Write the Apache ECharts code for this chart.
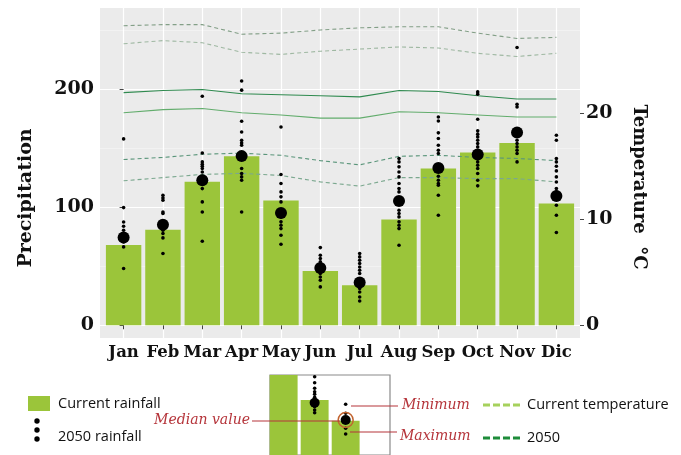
<!DOCTYPE html>
<html><head><meta charset="utf-8">
<script src="https://cdn.jsdelivr.net/npm/echarts@6/dist/echarts.min.js"></script>
<style>html,body{margin:0;padding:0;background:#fff}#c{width:681px;height:455px}</style>
</head><body><div id="c"></div>
<script>
// ---------- data ----------
const months = ['Jan','Feb','Mar','Apr','May','Jun','Jul','Aug','Sep','Oct','Nov','Dic'];
const precipTicks = [0, 100, 200];
const precipMinorTicks = [50, 150, 250];
const tempTicks = [0, 10, 20];
const currentRainfall = [68, 81, 121.5, 143.2, 105.7, 46, 33.9, 89.6, 132.8, 146.3, 154.5, 103.1];
const rainfall2050Median = [74.3, 85.2, 122.8, 143.3, 95.2, 48.6, 36.2, 105.2, 133.2, 144.6, 163.4, 109.5];
const rainfall2050Jan = [157.9, 99.7, 87.5, 83.9, 80.5, 77.7, 70.6, 66.4, 48.1];
const rainfall2050Feb = [110.2, 107.9, 105.9, 96.0, 94.7, 87.6, 80.5, 77.7, 74.0, 60.8];
const rainfall2050Mar = [194, 146, 138.4, 136.4, 134.7, 132.8, 129.9, 126.3, 120.1, 115.8, 104.5, 96.0, 71.2];
const rainfall2050Apr = [207, 199.2, 172.9, 163.8, 156.8, 154.5, 152.5, 132.8, 128.6, 125.7, 122.9, 96.0];
const rainfall2050May = [168, 127.7, 120.1, 113.0, 108.8, 104.5, 91.8, 87.6, 84.7, 81.9, 76.3, 68.6];
const rainfall2050Jun = [65.8, 59.3, 56.5, 53.7, 43.8, 40.9, 38.1, 32.5];
const rainfall2050Jul = [60.8, 57.9, 55.1, 52.3, 49.4, 46.6, 43.8, 31.1, 28.2, 24.0, 20.6];
const rainfall2050Aug = [141.3, 138.4, 134.2, 129.9, 125.7, 120.1, 115.8, 113.0, 97.5, 94.7, 91.8, 87.6, 84.7, 81.9, 67.8];
const rainfall2050Sep = [176.5, 173.1, 163, 158.2, 152.5, 148.3, 145.5, 126.3, 122.9, 120.1, 118.6, 110.2, 93.2];
const rainfall2050Oct = [197.7, 195.8, 174.6, 164.7, 161.9, 159.6, 156.8, 154.0, 151.1, 141.3, 138.4, 135.6, 132.8, 128.6, 122.9, 118.1];
const rainfall2050Nov = [235.3, 187.3, 185, 156.8, 154, 151.1, 148.3, 145.5, 138.4];
const rainfall2050Dic = [161, 156.8, 141.3, 138.4, 134.7, 130.8, 125.7, 121.4, 115.8, 113, 101.7, 93.2, 78.6];
const rainfall2050Members = [rainfall2050Jan, rainfall2050Feb, rainfall2050Mar, rainfall2050Apr, rainfall2050May, rainfall2050Jun,
  rainfall2050Jul, rainfall2050Aug, rainfall2050Sep, rainfall2050Oct, rainfall2050Nov, rainfall2050Dic];

// temperatures (°C)
const tempHigh2050 = [28.2, 28.3, 28.3, 27.4, 27.5, 27.8, 28.0, 28.1, 28.1, 27.5, 27.0, 27.1];
const tempHighCurrent = [26.5, 26.8, 26.6, 25.7, 25.5, 25.8, 26.0, 26.2, 26.1, 25.6, 25.3, 25.6];
const tempMean2050 = [21.9, 22.1, 22.2, 21.8, 21.7, 21.6, 21.5, 22.1, 22.0, 21.6, 21.3, 21.3];
const tempMeanCurrent = [20.0, 20.3, 20.4, 20.0, 19.8, 19.5, 19.5, 20.1, 20.0, 19.8, 19.6, 19.6];
const tempLow2050 = [15.6, 15.8, 16.1, 16.2, 16.0, 15.5, 15.1, 15.9, 16.0, 15.8, 15.7, 15.5];
const tempLowCurrent = [13.6, 13.9, 14.2, 14.3, 14.1, 13.5, 13.1, 13.9, 13.9, 13.8, 13.8, 13.5];

// inset (legend explanation)
const insetBars = [100, 68.75, 42.9];
const insetMembers = [[], [97.9, 90.4, 83.4, 79.1, 75.9, 72.1, 60.4, 56.3, 52.9], [63.4, 52.1, 33.4, 26.25]];
const insetMedians = [null, 65.4, 43.75];

// ---------- build ----------
const P_MIN = -10.8, P_MAX = 268.8, K = 9;
const barColor = '#9bc53a';
const serif = '"DejaVu Serif", serif';
const sans = '"Open Sans", sans-serif';
const red = '#b5343a';

const pairs = arr => arr.map((v, i) => [i, v]);
const memberPts = [];
rainfall2050Members.forEach((list, i) => list.forEach(v => memberPts.push([i, v])));
const insetMemberPts = [];
insetMembers.forEach((list, i) => list.forEach(v => insetMemberPts.push([i, v])));

function tline(name, data, color, dashed) {
  return {
    name, type: 'line', xAxisIndex: 0, yAxisIndex: 1, data: pairs(data),
    symbol: 'none', z: 3, silent: true,
    lineStyle: { color, width: 1.1, type: dashed ? [4, 3] : 'solid' }
  };
}
const dot = { color: '#000', opacity: 1 };

const chart = echarts.init(document.getElementById('c'), null, { renderer: 'canvas' });
chart.setOption({
  animation: false,
  backgroundColor: '#fff',
  grid: [
    { left: 100, right: 101, top: 8, bottom: 117, show: true, backgroundColor: '#ebebeb', borderWidth: 0 },
    { left: 270, top: 375, width: 120, height: 80, show: true, backgroundColor: '#fff', borderColor: '#8a8a8a', borderWidth: 1.2 }
  ],
  xAxis: [
    {
      type: 'value', gridIndex: 0, min: -0.6, max: 11.6,
      axisLine: { show: false },
      axisTick: { show: true, length: 4, lineStyle: { color: '#444' }, customValues: months.map((m, i) => i) },
      axisLabel: { customValues: months.map((m, i) => i), formatter: v => months[v] || '', margin: 6,
        fontFamily: serif, fontWeight: 'bold', fontSize: 16.5, color: '#111' },
      splitLine: { show: true, lineStyle: { color: '#fff', width: 1.2 } }
    },
    { type: 'value', gridIndex: 1, min: -0.44, max: 3.43, show: false }
  ],
  yAxis: [
    {
      type: 'value', gridIndex: 0, position: 'left', min: P_MIN, max: P_MAX,
      axisLine: { show: false },
      axisTick: { show: true, length: 4, lineStyle: { color: '#444' }, customValues: precipTicks },
      axisLabel: { customValues: precipTicks, margin: 6, fontFamily: serif, fontWeight: 'bold', fontSize: 19, color: '#111' },
      splitLine: { show: true, lineStyle: { color: '#fff', width: 1.2 } },
      name: 'Precipitation', nameLocation: 'middle', nameRotate: 90, nameGap: 64,
      nameTextStyle: { fontFamily: serif, fontWeight: 'bold', fontSize: 19, color: '#111', padding: [0, 50, 0, 0] }
    },
    {
      type: 'value', gridIndex: 0, position: 'right', min: P_MIN / K, max: P_MAX / K,
      axisLine: { show: false },
      axisTick: { show: true, length: 4, lineStyle: { color: '#444' }, customValues: tempTicks },
      axisLabel: { customValues: tempTicks, margin: 6, fontFamily: serif, fontWeight: 'bold', fontSize: 19, color: '#111' },
      splitLine: { show: false },
      name: 'Temperature  \u00B0C', nameLocation: 'middle', nameRotate: -90, nameGap: 50,
      nameTextStyle: { fontFamily: serif, fontWeight: 'bold', fontSize: 18, color: '#111', padding: [0, 0, 0, 28] }
    },
    {
      type: 'value', gridIndex: 0, position: 'left', min: P_MIN, max: P_MAX,
      axisLine: { show: false }, axisLabel: { show: false },
      axisTick: { show: false, customValues: precipMinorTicks },
      splitLine: { show: true, lineStyle: { color: '#f7f7f7', width: 0.6 } }
    },
    { type: 'value', gridIndex: 1, min: 0, max: 100, show: false }
  ],
  series: [
    { name: 'Current rainfall', type: 'bar', xAxisIndex: 0, yAxisIndex: 0, data: pairs(currentRainfall),
      barWidth: '90%', itemStyle: { color: barColor }, z: 2, silent: true },
    tline('Max temperature 2050', tempHigh2050, '#839f87', true),
    tline('Max temperature current', tempHighCurrent, '#9fb8a2', true),
    tline('Mean temperature 2050', tempMean2050, '#2f8a4f', false),
    tline('Mean temperature current', tempMeanCurrent, '#63ad6d', false),
    tline('Min temperature 2050', tempLow2050, '#5a957a', true),
    tline('Min temperature current', tempLowCurrent, '#7ba88f', true),
    { name: '2050 rainfall', type: 'scatter', xAxisIndex: 0, yAxisIndex: 0, data: memberPts,
      symbol: 'circle', symbolSize: 3.6, itemStyle: dot, z: 4, silent: true },
    { name: '2050 median', type: 'scatter', xAxisIndex: 0, yAxisIndex: 0, data: pairs(rainfall2050Median),
      symbol: 'circle', symbolSize: 12, itemStyle: dot, z: 5, silent: true },
    // inset
    { type: 'bar', xAxisIndex: 1, yAxisIndex: 3, data: pairs(insetBars), barWidth: '90%',
      itemStyle: { color: barColor }, silent: true },
    { type: 'scatter', xAxisIndex: 1, yAxisIndex: 3, data: insetMemberPts, symbolSize: 3.6,
      itemStyle: dot, z: 4, silent: true },
    { type: 'scatter', xAxisIndex: 1, yAxisIndex: 3, data: pairs(insetMedians).filter(d => d[1] != null), symbolSize: 10,
      itemStyle: dot, z: 5, silent: true },
    { type: 'scatter', xAxisIndex: 1, yAxisIndex: 3, data: [[2, insetMedians[2]]], symbolSize: 15,
      itemStyle: { color: 'rgba(0,0,0,0)', borderColor: '#c2632f', borderWidth: 1.5, opacity: 1 }, z: 6, silent: true }
  ],
  graphic: [
    { type: 'rect', shape: { x: 28, y: 396, width: 22, height: 15 }, style: { fill: barColor } },
    { type: 'text', x: 58, y: 403.5, style: { text: 'Current rainfall', fontFamily: sans, fontSize: 14.5, fill: '#111', verticalAlign: 'middle' } },
    { type: 'circle', shape: { cx: 37, cy: 421, r: 2.7 }, style: { fill: '#000' } },
    { type: 'circle', shape: { cx: 37, cy: 430, r: 2.7 }, style: { fill: '#000' } },
    { type: 'circle', shape: { cx: 37, cy: 439, r: 2.7 }, style: { fill: '#000' } },
    { type: 'text', x: 58, y: 437, style: { text: '2050 rainfall', fontFamily: sans, fontSize: 14.5, fill: '#111', verticalAlign: 'middle' } },
    { type: 'line', shape: { x1: 483, y1: 405, x2: 522, y2: 405 }, style: { stroke: '#a6d15c', lineWidth: 3, lineDash: [7, 3] } },
    { type: 'text', x: 527, y: 405, style: { text: 'Current temperature', fontFamily: sans, fontSize: 14.5, fill: '#111', verticalAlign: 'middle' } },
    { type: 'line', shape: { x1: 483, y1: 438, x2: 522, y2: 438 }, style: { stroke: '#1e8c3a', lineWidth: 3, lineDash: [7, 3] } },
    { type: 'text', x: 527, y: 438, style: { text: '2050', fontFamily: sans, fontSize: 14.5, fill: '#111', verticalAlign: 'middle' } },
    { type: 'line', z: 10, shape: { x1: 252, y1: 421, x2: 340, y2: 421 }, style: { stroke: red, lineWidth: 1.2 } },
    { type: 'text', x: 250, y: 420, style: { text: 'Median value', fontFamily: serif, fontStyle: 'italic', fontSize: 14, fill: red, align: 'right', verticalAlign: 'middle' } },
    { type: 'line', z: 10, shape: { x1: 351, y1: 406, x2: 398, y2: 406 }, style: { stroke: red, lineWidth: 1.2 } },
    { type: 'text', x: 402, y: 405, style: { text: 'Minimum', fontFamily: serif, fontStyle: 'italic', fontSize: 14, fill: red, verticalAlign: 'middle' } },
    { type: 'line', z: 10, shape: { x1: 350, y1: 432, x2: 397, y2: 432 }, style: { stroke: red, lineWidth: 1.2 } },
    { type: 'text', x: 400, y: 436, style: { text: 'Maximum', fontFamily: serif, fontStyle: 'italic', fontSize: 14, fill: red, verticalAlign: 'middle' } }
  ]
});
</script></body></html>
